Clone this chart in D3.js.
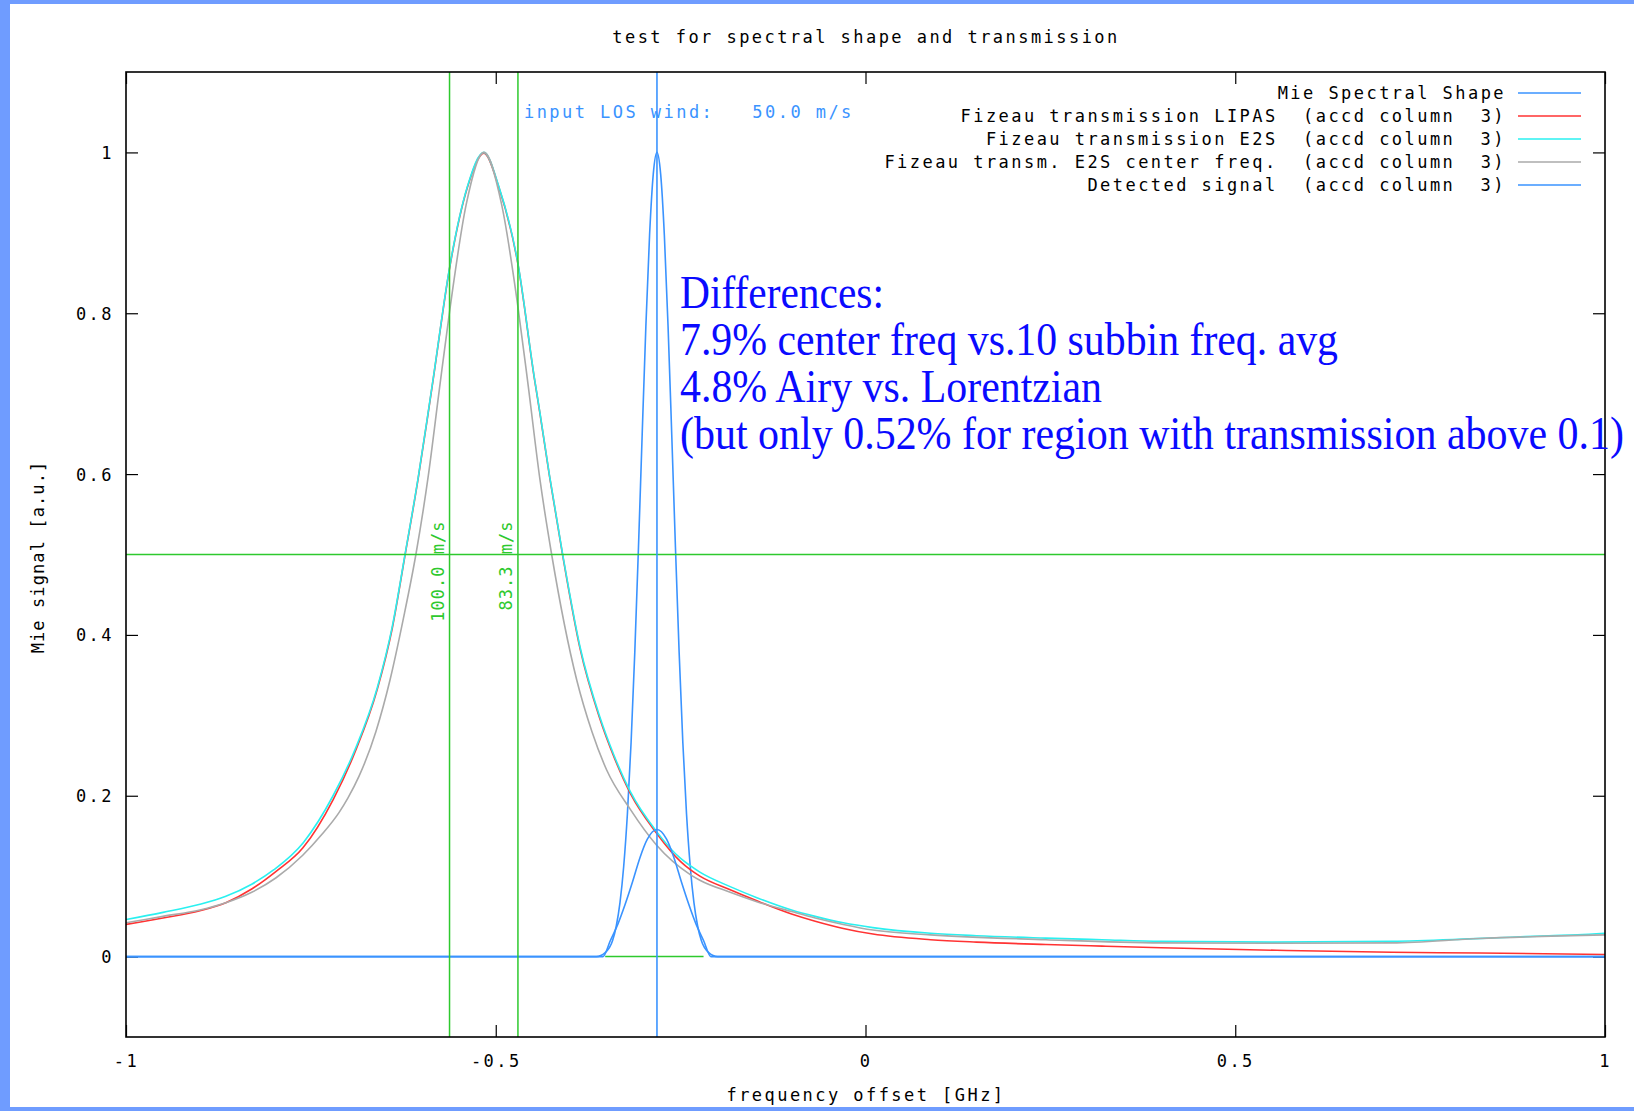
<!DOCTYPE html>
<html><head><meta charset="utf-8">
<script src="https://cdn.jsdelivr.net/npm/d3@7"></script>
<style>body{margin:0;background:#fff}svg{display:block}text{white-space:pre}</style>
</head><body>
<svg id="chart" width="1634" height="1111"></svg>
<script>
// ---------------- data ----------------
const chartTitle = "test for spectral shape and transmission";
const xAxisLabel = "frequency offset [GHz]";
const yAxisLabel = "Mie signal [a.u.]";
const xTicks = [-1, -0.5, 0, 0.5, 1];
const xTickLabels = ["-1", "-0.5", "0", "0.5", "1"];
const yTicks = [0, 0.2, 0.4, 0.6, 0.8, 1];
const yTickLabels = ["0", "0.2", "0.4", "0.6", "0.8", "1"];

const legendLabels = [
  "Mie Spectral Shape",
  "Fizeau transmission LIPAS  (accd column  3)",
  "Fizeau transmission E2S  (accd column  3)",
  "Fizeau transm. E2S center freq.  (accd column  3)",
  "Detected signal  (accd column  3)"
];

// Mie spectral shape
const mieX = [-1.0, -0.364, -0.352, -0.342, -0.337, -0.332, -0.327, -0.322, -0.317, -0.312, -0.307, -0.302, -0.297, -0.292, -0.287, -0.282, -0.277, -0.272, -0.267, -0.262, -0.257, -0.252, -0.247, -0.242, -0.237, -0.232, -0.227, -0.222, -0.212, -0.200, 1.0];
const mieY = [0, 0, 0.005, 0.020, 0.038, 0.067, 0.112, 0.177, 0.266, 0.378, 0.509, 0.649, 0.784, 0.897, 0.973, 1.0, 0.973, 0.897, 0.784, 0.649, 0.509, 0.378, 0.266, 0.177, 0.112, 0.067, 0.038, 0.020, 0.005, 0, 0];

// Fizeau transmission LIPAS
const lipasX = [-1.00,-0.95,-0.90,-0.865,-0.83,-0.797,-0.761,-0.72,-0.69,-0.66,-0.64,-0.6227,-0.605,-0.5925,-0.5844,-0.5628,-0.5385,-0.516,-0.4956,-0.470,-0.4478,-0.440,-0.4276,-0.4095,-0.386,-0.36,-0.34,-0.318,-0.283,-0.25,-0.237,-0.224,-0.183,-0.146,-0.10,-0.068,-0.03,0.01,0.088,0.15,0.244,0.32,0.40,0.556,0.712,0.83,1.00];
const lipasY = [0.040,0.048,0.057,0.067,0.084,0.106,0.135,0.195,0.255,0.333,0.408,0.499,0.594,0.669,0.719,0.854,0.956,0.999,0.956,0.861,0.719,0.674,0.599,0.499,0.383,0.298,0.248,0.203,0.154,0.118,0.108,0.100,0.083,0.069,0.053,0.044,0.035,0.028,0.021,0.018,0.015,0.013,0.011,0.0078,0.0053,0.0045,0.0025];

// Fizeau transmission E2S
const e2sX = [-1.00,-0.95,-0.90,-0.865,-0.83,-0.80,-0.76,-0.72,-0.69,-0.66,-0.64,-0.6227,-0.605,-0.5925,-0.5844,-0.5628,-0.5385,-0.516,-0.4956,-0.470,-0.4478,-0.440,-0.4276,-0.4095,-0.386,-0.36,-0.34,-0.318,-0.283,-0.25,-0.237,-0.224,-0.183,-0.146,-0.10,-0.068,-0.03,0.01,0.088,0.15,0.244,0.32,0.40,0.55,0.712,0.816,0.872,0.924,0.963,1.00];
const e2sY = [0.046,0.055,0.065,0.075,0.090,0.108,0.142,0.200,0.258,0.335,0.410,0.500,0.595,0.670,0.720,0.855,0.957,1.000,0.957,0.862,0.720,0.675,0.600,0.500,0.385,0.300,0.250,0.205,0.156,0.122,0.113,0.105,0.087,0.073,0.058,0.050,0.042,0.036,0.029,0.026,0.023,0.021,0.019,0.018,0.019,0.022,0.024,0.026,0.027,0.029];

// Fizeau transm. E2S center freq.
const centerX = [-1.00,-0.95,-0.90,-0.865,-0.83,-0.797,-0.761,-0.735,-0.712,-0.700,-0.685,-0.662,-0.643,-0.625,-0.608,-0.5912,-0.5763,-0.562,-0.540,-0.516,-0.492,-0.470,-0.456,-0.4402,-0.4244,-0.3905,-0.37,-0.35,-0.318,-0.283,-0.237,-0.224,-0.183,-0.146,-0.10,-0.068,-0.03,0.01,0.088,0.244,0.40,0.556,0.712,0.83,1.00];
const centerY = [0.042,0.050,0.058,0.067,0.080,0.098,0.126,0.152,0.179,0.197,0.224,0.280,0.344,0.420,0.500,0.598,0.705,0.805,0.935,1.000,0.935,0.808,0.709,0.593,0.500,0.344,0.280,0.232,0.183,0.139,0.102,0.095,0.080,0.068,0.056,0.048,0.040,0.033,0.027,0.021,0.017,0.0165,0.017,0.0225,0.027];

// Detected signal
const detX = [-1.0, -0.355, -0.345, -0.335, -0.325, -0.315, -0.305, -0.295, -0.282, -0.269, -0.259, -0.249, -0.239, -0.229, -0.219, -0.209, 1.0];
const detY = [0, 0, 0.020, 0.040, 0.065, 0.093, 0.123, 0.146, 0.158, 0.146, 0.123, 0.093, 0.065, 0.040, 0.020, 0, 0];

// markers
const windFreqs = [-0.5625, -0.470];
const windLabels = ["100.0 m/s", "83.3 m/s"];
const halfLevel = 0.5;
const inputWindFreq = -0.282;
const inputWindLabel = "input LOS wind:   50.0 m/s";
const signalRange = [-0.352, -0.219];

const noteLines = [
  "Differences:",
  "7.9% center freq vs.10 subbin freq. avg",
  "4.8% Airy vs. Lorentzian",
  "(but only 0.52% for region with transmission above 0.1)"
];

// ---------------- drawing ----------------
const W = 1634, H = 1111;
const svg = d3.select('#chart');
const mono = "'DejaVu Sans Mono', monospace";
const monoSize = 17, monoSpacing = '2.45px';
const C = {mie:'#3a93ff', red:'#ff3333', cyan:'#2af0f0', gray:'#aaaaaa', green:'#2ec92e', note:'#0a0aff'};

svg.append('rect').attr('width', W).attr('height', H).attr('fill', '#6f9cff');
svg.append('rect').attr('x', 10).attr('y', 4).attr('width', W - 10).attr('height', H - 8).attr('fill', '#ffffff');

const m = {left:126, right:1605, top:72, bottom:1037};
const x = d3.scaleLinear().domain([-1, 1]).range([m.left, m.right]);
const y = d3.scaleLinear().domain([-0.1, 1.1]).range([m.bottom, m.top]);

svg.append('clipPath').attr('id', 'clip').append('rect')
  .attr('x', m.left).attr('y', m.top).attr('width', m.right - m.left).attr('height', m.bottom - m.top);

function monoText(sel, spacing) {
  return sel.attr('font-family', mono).attr('font-size', monoSize)
    .style('letter-spacing', spacing || monoSpacing).attr('fill', '#000');
}

// title
monoText(svg.append('text')).attr('x', 866).attr('y', 37).attr('dy', '0.35em').attr('text-anchor', 'middle').text(chartTitle);

// axes
const gx = svg.append('g').attr('transform', `translate(0,${m.bottom})`)
  .call(d3.axisBottom(x).tickValues(xTicks).tickSize(-12).tickFormat((d, i) => xTickLabels[i]));
const gxt = svg.append('g').attr('transform', `translate(0,${m.top})`)
  .call(d3.axisTop(x).tickValues(xTicks).tickSize(-12).tickFormat(''));
const gy = svg.append('g').attr('transform', `translate(${m.left},0)`)
  .call(d3.axisLeft(y).tickValues(yTicks).tickSize(-12).tickFormat((d, i) => yTickLabels[i]));
const gyr = svg.append('g').attr('transform', `translate(${m.right},0)`)
  .call(d3.axisRight(y).tickValues(yTicks).tickSize(-12).tickFormat(''));
[gx, gxt, gy, gyr].forEach(g => {
  g.select('.domain').remove();
  g.selectAll('.tick line').attr('stroke', '#000').attr('stroke-width', 1.2);
});
gx.selectAll('.tick text').each(function () { monoText(d3.select(this)); }).attr('y', 24).attr('dy', '0.35em');
gy.selectAll('.tick text').each(function () { monoText(d3.select(this)); }).attr('x', -12).attr('dy', '0.35em');

// axis labels
monoText(svg.append('text')).attr('x', 866).attr('y', 1095).attr('dy', '0.35em').attr('text-anchor', 'middle').text(xAxisLabel);
monoText(svg.append('text'), '1.1px').attr('transform', 'translate(38,557) rotate(-90)').attr('dy', '0.35em').attr('text-anchor', 'middle').text(yAxisLabel);

// curves
const plot = svg.append('g').attr('clip-path', 'url(#clip)');
const line = d3.line().x(d => x(d[0])).y(d => y(d[1])).curve(d3.curveMonotoneX);
const zip = (a, b) => a.map((v, i) => [v, b[i]]);
const series = [
  {xs: mieX, ys: mieY, color: C.mie},
  {xs: lipasX, ys: lipasY, color: C.red},
  {xs: e2sX, ys: e2sY, color: C.cyan},
  {xs: centerX, ys: centerY, color: C.gray},
  {xs: detX, ys: detY, color: C.mie}
];
series.forEach(s => {
  plot.append('path').datum(zip(s.xs, s.ys)).attr('d', line)
    .attr('fill', 'none').attr('stroke', s.color).attr('stroke-width', 1.6).attr('stroke-linejoin', 'round');
});

// green markers
windFreqs.forEach((f, i) => {
  plot.append('line').attr('x1', x(f)).attr('x2', x(f)).attr('y1', m.top).attr('y2', m.bottom)
    .attr('stroke', C.green).attr('stroke-width', 1.5);
  monoText(svg.append('text'), '1px').attr('fill', C.green)
    .attr('transform', `translate(${x(f) - 6},${y(halfLevel) - 34}) rotate(-90)`)
    .attr('text-anchor', 'end').text(windLabels[i]);
});
plot.append('line').attr('x1', m.left).attr('x2', m.right).attr('y1', y(halfLevel)).attr('y2', y(halfLevel))
  .attr('stroke', C.green).attr('stroke-width', 1.5);
plot.append('line').attr('x1', x(signalRange[0])).attr('x2', x(signalRange[1])).attr('y1', y(0)).attr('y2', y(0))
  .attr('stroke', C.green).attr('stroke-width', 1.5);

// input wind marker
plot.append('line').attr('x1', x(inputWindFreq)).attr('x2', x(inputWindFreq)).attr('y1', m.top).attr('y2', m.bottom)
  .attr('stroke', C.mie).attr('stroke-width', 1.6);
monoText(svg.append('text')).attr('fill', C.mie).attr('x', 524).attr('y', 112).attr('dy', '0.35em').text(inputWindLabel);

// frame
svg.append('rect').attr('x', m.left).attr('y', m.top).attr('width', m.right - m.left).attr('height', m.bottom - m.top)
  .attr('fill', 'none').attr('stroke', '#000').attr('stroke-width', 1.6);

// legend
const legendColors = [C.mie, C.red, C.cyan, C.gray, C.mie];
legendLabels.forEach((t, i) => {
  const yy = 93 + i * 23;
  monoText(svg.append('text')).attr('x', 1506).attr('y', yy).attr('dy', '0.35em').attr('text-anchor', 'end').text(t);
  svg.append('line').attr('x1', 1518).attr('x2', 1581).attr('y1', yy).attr('y2', yy)
    .attr('stroke', legendColors[i]).attr('stroke-width', 1.6);
});

// annotation (condensed serif, slightly stretched vertically)
const noteWidths = [204, 658, 422, 944];
noteLines.forEach((t, i) => {
  svg.append('text').attr('transform', `translate(680,${308 + i * 47}) scale(1,1.13)`)
    .attr('x', 0).attr('y', 0)
    .attr('font-family', "'Liberation Serif', 'Times New Roman', serif").attr('font-size', 41)
    .attr('fill', C.note).attr('textLength', noteWidths[i]).attr('lengthAdjust', 'spacingAndGlyphs')
    .text(t);
});
</script>
</body></html>
